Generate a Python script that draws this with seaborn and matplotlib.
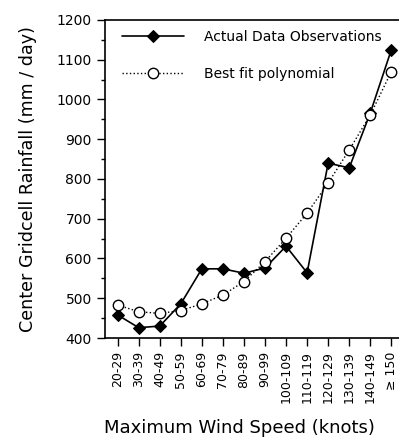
import matplotlib
matplotlib.use("Agg")
import matplotlib.pyplot as plt
import seaborn as sns
import pandas as pd
from matplotlib.ticker import MultipleLocator

categories = ["20-29", "30-39", "40-49", "50-59", "60-69", "70-79", "80-89",
              "90-99", "100-109", "110-119", "120-129", "130-139", "140-149", "\u2265 150"]
actual = [458, 426, 430, 486, 574, 574, 563, 576, 631, 564, 840, 828, 966, 1125]
fit = [483, 466, 462, 469, 486, 508, 542, 592, 651, 714, 790, 873, 961, 1070]

sns.set_style("ticks")
plt.rcParams['font.family'] = ['DejaVu Sans']
plt.rcParams.update({"text.color": "black", "axes.labelcolor": "black",
                     "xtick.color": "black", "ytick.color": "black"})

df = pd.DataFrame({"pos": list(range(len(categories))), "actual": actual, "fit": fit})

fig = plt.figure(figsize=(3.99, 4.40), dpi=100)
ax = fig.add_axes([105/399, 1 - 338/440, 300/399, 318/440])

sns.lineplot(data=df, x="pos", y="actual", ax=ax, color="black", lw=1.2,
             marker="D", markersize=6, markerfacecolor="black", markeredgecolor="black",
             label="Actual Data Observations")
sns.lineplot(data=df, x="pos", y="fit", ax=ax, color="black", lw=1.0, linestyle=":",
             marker="o", markersize=7.5, markerfacecolor="white", markeredgecolor="black",
             markeredgewidth=1.0, label="Best fit polynomial")

ax.set_xlim(-0.6, 13.65)
ax.set_ylim(400, 1200)
ax.set_xticks(range(len(categories)))
ax.set_xticklabels(categories, rotation=90, fontsize=9)
ax.yaxis.set_major_locator(MultipleLocator(100))
ax.yaxis.set_minor_locator(MultipleLocator(50))
ax.tick_params(axis="y", which="major", length=6, width=1, labelsize=10, direction="out")
ax.tick_params(axis="y", which="minor", length=3, width=1, direction="out")
ax.tick_params(axis="x", which="major", length=6, width=1, direction="out")
for s in ax.spines.values():
    s.set_linewidth(1.2)
    s.set_color("black")
ax.spines["right"].set_visible(False)

ax.set_xlabel("Maximum Wind Speed (knots)", fontsize=13)
ax.set_ylabel("Center Gridcell Rainfall (mm / day)", fontsize=12.6)
ax.xaxis.set_label_coords((239 - 105) / 300, (338 - 419) / 318)
ax.yaxis.set_label_coords((37 - 105) / 300, 0.5)

leg = ax.legend(loc="upper left", frameon=False, fontsize=10, handlelength=4.5,
                labelspacing=1.65, bbox_to_anchor=(0.023, 1.0), borderaxespad=0.3,
                handletextpad=1.45)

fig.savefig("out.png", dpi=100)
